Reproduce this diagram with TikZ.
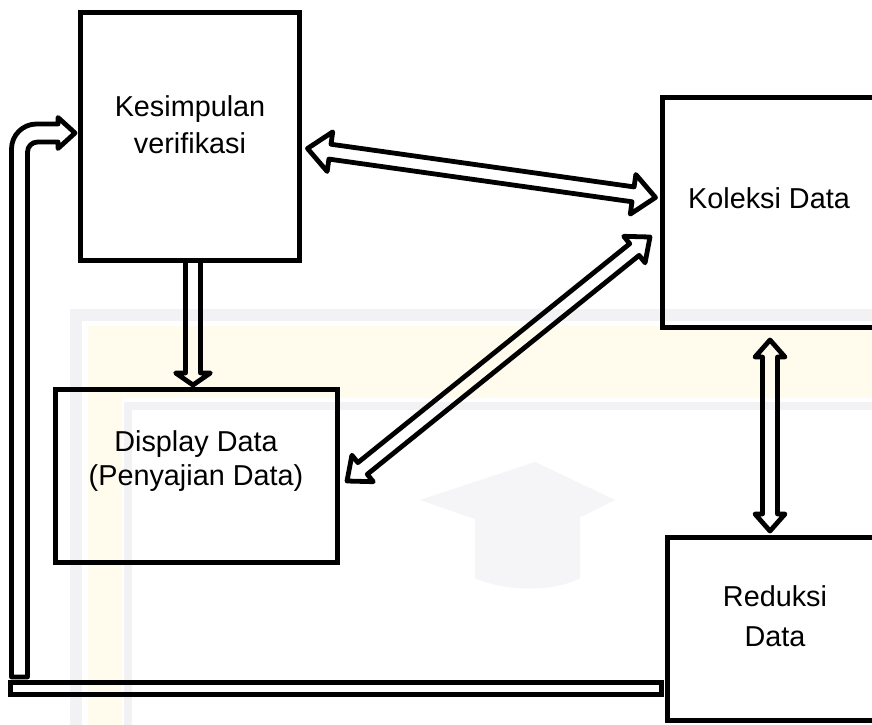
\documentclass[tikz,border=0pt]{standalone}
\usepackage{fontspec}
\setmainfont{Liberation Sans}
\usetikzlibrary{calc,fit}

% hollow double-headed block arrow from #1 to #2; #3 = head half-width, #4 = head length
\newcommand\twowayarrow[4]{%
  \coordinate (ta) at ($(#1)!#4!(#2)$);
  \coordinate (tb) at ($(#2)!#4!(#1)$);
  \draw[hollowarrow] (#1)
    -- ($(ta)!#3!90:(#2)$) -- ($(ta)!\arrSW!90:(#2)$)
    -- ($(tb)!\arrSW!-90:(#1)$) -- ($(tb)!#3!-90:(#1)$)
    -- (#2)
    -- ($(tb)!#3!90:(#1)$) -- ($(tb)!\arrSW!90:(#1)$)
    -- ($(ta)!\arrSW!-90:(#2)$) -- ($(ta)!#3!-90:(#2)$)
    -- cycle;}

% hollow single-headed block arrow from #1 to #2
\newcommand\onewayarrow[4]{%
  \coordinate (tb) at ($(#2)!#4!(#1)$);
  \draw[hollowarrow] ($(#1)!\arrSW!90:(#2)$)
    -- ($(tb)!\arrSW!-90:(#1)$) -- ($(tb)!#3!-90:(#1)$)
    -- (#2)
    -- ($(tb)!#3!90:(#1)$) -- ($(tb)!\arrSW!90:(#1)$)
    -- ($(#1)!\arrSW!-90:(#2)$)
    -- cycle;}

\newcommand\arrSW{5.625pt}

\definecolor{wmgray}{RGB}{242,242,245}
\definecolor{wmcap}{RGB}{245,245,247}
\definecolor{wmyellow}{RGB}{255,252,238}

\tikzset{
  box/.style={draw, line width=3.75pt, inner sep=0pt, outer sep=0pt},
  txt/.style={align=center, inner sep=0pt, font=\fontsize{21.6}{27.75}\selectfont},
  hollowarrow/.style={draw, line width=3.6pt, line join=round}
}

\begin{document}
\begin{tikzpicture}[x=0.75pt, y=-0.75pt]
\useasboundingbox (0,0) rectangle (872,725);
\clip (0,0) rectangle (872,725);
\fill[white] (0,0) rectangle (872,725);

% faint background emblem
\fill[wmyellow] (88,326) rectangle (900,398);
\fill[wmyellow] (88,326) rectangle (122,740);
\draw[wmgray, line width=9pt] (76,315) rectangle (920,760);
\draw[wmgray, line width=6pt] (128,406) rectangle (920,760);
\fill[wmcap] (420,500) -- (535,462) -- (615,500) -- (535,540) -- cycle;
\fill[wmcap] (475,518) -- (475,578) .. controls (505,592) and (555,592) .. (580,578) -- (580,518) -- (535,540) -- cycle;

% boxes
\node[box, fit={(80.5,12.5) (299.5,260.5)}] (kes) {};
\node[box, fit={(662.5,97.5) (900,327.5)}] (kol) {};
\node[box, fit={(55.5,389.5) (337.5,562.5)}] (dis) {};
\node[box, fit={(667.5,537.5) (900,720.5)}] (red) {};
\node[box, fit={(10,682.5) (661.5,694.5)}] (bar) {};

% labels
\node[txt] (kesT) at (190,124.5) {Kesimpulan\\verifikasi};
\node[txt] (kolT) at (769,198) {Koleksi Data};
\node[txt, font=\fontsize{21.6}{25.5}\selectfont] (disT) at (196,461) {Display Data\\(Penyajian Data)};
\node[txt, font=\fontsize{21.6}{30}\selectfont] (redT) at (775,616) {Reduksi\\Data};

% arrow end points
\coordinate (kesR)  at ($(kes.east)+(8,12)$);
\coordinate (kolL)  at ($(kol.west)+(-7,-15)$);
\coordinate (kolLd) at ($(kol.west)+(-12.5,24.5)$);
\coordinate (disR)  at ($(dis.east)+(9.5,5)$);
\coordinate (kolB)  at ($(kol.south west)+(107.5,12.5)$);
\coordinate (redTop) at ($(red.north west)+(102.5,-6.5)$);
\coordinate (kesB)  at ($(kes.south west)+(112.5,0)$);
\coordinate (disTop) at ($(dis.north west)+(137.5,-4.5)$);
\coordinate (fbtip) at ($(kes.west)+(-5.5,-3.5)$);

% connectors
\twowayarrow{kesR}{kolL}{15pt}{17pt}
\twowayarrow{kolLd}{disR}{12.75pt}{15pt}
\twowayarrow{kolB}{redTop}{11.25pt}{12.75pt}
\onewayarrow{kesB}{disTop}{13pt}{9pt}

% feedback pipe into the conclusion box
\draw[hollowarrow] (11.5,677) -- (11.5,149)
  arc[start angle=180, end angle=90, radius=18.75pt]
  -- (58,124) -- (58,117.5) -- (fbtip) -- (58,148.5) -- (58,142) -- (37.5,142)
  arc[start angle=90, end angle=180, radius=7.5pt]
  -- (27.5,677) -- cycle;
\end{tikzpicture}
\end{document}
